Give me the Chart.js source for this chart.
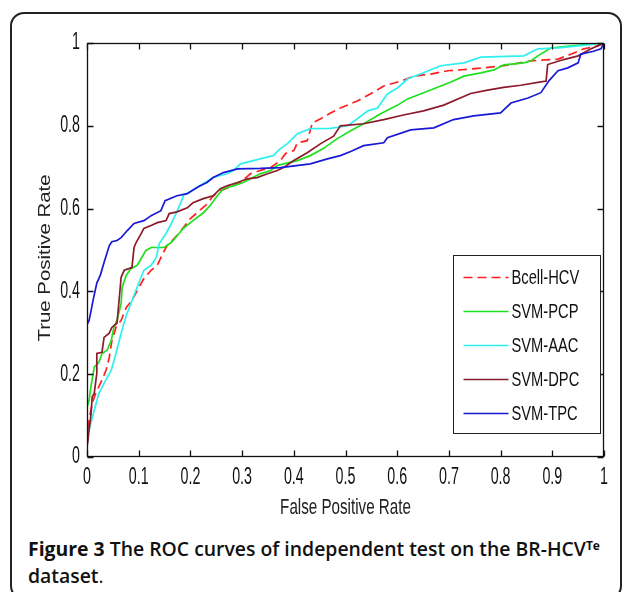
<!DOCTYPE html>
<html lang="en">
<head>
<meta charset="UTF-8">
<title>ROC curves BR-HCV</title>
<script src="https://cdn.jsdelivr.net/npm/chart.js"></script>
<style>
    body { margin: 0; background: #fff; width: 630px; height: 592px; overflow: hidden; position: relative; }
    .frame { position: absolute; left: 10px; top: 12px; width: 608px; height: 584px; border: 2px solid #222; border-radius: 14px; }
    #roc { position: absolute; left: 0; top: 0; }
    .caption { position: absolute; left: 28px; top: 535px; font-family: 'Open Sans', sans-serif; font-size: 19.4px; line-height: 27px; color: #111; font-weight: 600; white-space: nowrap; }
    .caption b { font-weight: 700; }
    .caption sup { font-size: 12px; font-weight: 700; vertical-align: top; position: relative; top: -3px; }
    .caption .dot { font-weight: 400; }
</style>
</head>
<body>
<div class="frame"></div>
<canvas id="roc" width="630" height="530"></canvas>
<div class="caption"><b>Figure 3</b> The ROC curves of independent test on the BR-HCV<sup>Te</sup><br>dataset<span class="dot">.</span></div>

<script>
    // tick labels
    const xTickLabels = ['0', '0.1', '0.2', '0.3', '0.4', '0.5', '0.6', '0.7', '0.8', '0.9', '1'];
    const yTickLabels = ['0', '0.2', '0.4', '0.6', '0.8', '1'];
    const xTitle = 'False Positive Rate';
    const yTitle = 'True Positive Rate';

    const seriesNames = ['Bcell-HCV', 'SVM-PCP', 'SVM-AAC', 'SVM-DPC', 'SVM-TPC'];
    const seriesColors = ['#ff1f1f', '#1fe01f', '#2ff0f0', '#8c1b2b', '#1a1ad6'];

    // (false positive rate / true positive rate)
    const bcellFpr = [0, 0, 0.004, 0.01, 0.017, 0.029, 0.037, 0.043, 0.048, 0.056, 0.066, 0.076, 0.087, 0.097, 0.11, 0.124, 0.136, 0.145, 0.155, 0.169, 0.182, 0.2, 0.213, 0.233, 0.244, 0.258, 0.283, 0.297, 0.316, 0.335, 0.355, 0.374, 0.384, 0.4, 0.407, 0.426, 0.436, 0.452, 0.471, 0.49, 0.523, 0.548, 0.574, 0.607, 0.632, 0.665, 0.698, 0.742, 0.806, 0.859, 0.911, 0.936, 0.961, 0.988, 1];
    const bcellTpr = [0, 0.017, 0.09, 0.13, 0.154, 0.186, 0.21, 0.24, 0.28, 0.313, 0.33, 0.361, 0.378, 0.402, 0.431, 0.451, 0.463, 0.487, 0.511, 0.528, 0.547, 0.576, 0.59, 0.612, 0.631, 0.643, 0.655, 0.663, 0.684, 0.692, 0.699, 0.716, 0.733, 0.74, 0.759, 0.764, 0.807, 0.817, 0.831, 0.843, 0.86, 0.877, 0.896, 0.908, 0.92, 0.925, 0.933, 0.937, 0.945, 0.957, 0.961, 0.973, 0.986, 0.993, 1];

    const pcpFpr = [0, 0, 0.004, 0.008, 0.014, 0.023, 0.029, 0.039, 0.047, 0.052, 0.058, 0.066, 0.068, 0.076, 0.085, 0.097, 0.105, 0.114, 0.124, 0.149, 0.163, 0.178, 0.186, 0.205, 0.225, 0.238, 0.252, 0.264, 0.283, 0.302, 0.316, 0.335, 0.355, 0.368, 0.38, 0.407, 0.432, 0.457, 0.484, 0.51, 0.535, 0.568, 0.601, 0.62, 0.645, 0.678, 0.703, 0.729, 0.762, 0.787, 0.806, 0.845, 0.859, 0.872, 0.897, 0.936, 1];
    const pcpTpr = [0, 0.12, 0.137, 0.173, 0.217, 0.229, 0.25, 0.258, 0.282, 0.313, 0.33, 0.371, 0.41, 0.439, 0.455, 0.463, 0.48, 0.499, 0.506, 0.506, 0.518, 0.54, 0.552, 0.571, 0.59, 0.607, 0.631, 0.648, 0.655, 0.663, 0.672, 0.684, 0.692, 0.704, 0.708, 0.716, 0.728, 0.745, 0.769, 0.788, 0.805, 0.829, 0.85, 0.865, 0.877, 0.893, 0.905, 0.92, 0.928, 0.935, 0.947, 0.952, 0.957, 0.969, 0.988, 0.993, 1];

    const aacFpr = [0, 0, 0.004, 0.014, 0.023, 0.033, 0.047, 0.056, 0.066, 0.076, 0.085, 0.097, 0.11, 0.124, 0.134, 0.14, 0.153, 0.163, 0.172, 0.18, 0.187, 0.213, 0.244, 0.271, 0.283, 0.297, 0.335, 0.36, 0.374, 0.388, 0.407, 0.432, 0.471, 0.504, 0.523, 0.543, 0.562, 0.581, 0.601, 0.62, 0.651, 0.684, 0.729, 0.762, 0.845, 0.872, 0.911, 0.95, 1];
    const aacTpr = [0, 0.058, 0.065, 0.113, 0.154, 0.178, 0.21, 0.25, 0.299, 0.342, 0.371, 0.41, 0.451, 0.463, 0.482, 0.516, 0.54, 0.564, 0.588, 0.61, 0.632, 0.651, 0.675, 0.684, 0.692, 0.708, 0.72, 0.728, 0.745, 0.757, 0.781, 0.793, 0.794, 0.8, 0.817, 0.836, 0.843, 0.877, 0.892, 0.913, 0.928, 0.945, 0.952, 0.966, 0.969, 0.986, 0.988, 0.993, 1];

    const dpcFpr = [0, 0, 0.004, 0.008, 0.01, 0.014, 0.019, 0.019, 0.029, 0.033, 0.043, 0.048, 0.058, 0.062, 0.066, 0.072, 0.081, 0.087, 0.091, 0.095, 0.105, 0.11, 0.124, 0.136, 0.153, 0.159, 0.174, 0.194, 0.205, 0.225, 0.244, 0.258, 0.271, 0.291, 0.31, 0.329, 0.349, 0.368, 0.38, 0.4, 0.426, 0.452, 0.477, 0.49, 0.535, 0.574, 0.612, 0.651, 0.69, 0.742, 0.775, 0.806, 0.839, 0.878, 0.888, 0.891, 0.922, 0.95, 0.975, 1];
    const dpcTpr = [0, 0.024, 0.065, 0.106, 0.145, 0.154, 0.202, 0.25, 0.253, 0.289, 0.299, 0.313, 0.323, 0.378, 0.434, 0.451, 0.455, 0.458, 0.506, 0.518, 0.54, 0.552, 0.559, 0.566, 0.571, 0.588, 0.592, 0.602, 0.614, 0.624, 0.631, 0.648, 0.655, 0.663, 0.672, 0.675, 0.684, 0.692, 0.699, 0.716, 0.735, 0.757, 0.775, 0.8, 0.805, 0.815, 0.826, 0.836, 0.85, 0.878, 0.886, 0.893, 0.898, 0.906, 0.908, 0.948, 0.96, 0.969, 0.986, 1];

    const tpcFpr = [0, 0, 0.004, 0.008, 0.012, 0.019, 0.026, 0.033, 0.043, 0.048, 0.058, 0.066, 0.078, 0.091, 0.11, 0.124, 0.143, 0.151, 0.174, 0.194, 0.209, 0.219, 0.232, 0.244, 0.264, 0.291, 0.335, 0.374, 0.432, 0.465, 0.49, 0.51, 0.535, 0.574, 0.581, 0.626, 0.671, 0.709, 0.748, 0.8, 0.82, 0.853, 0.878, 0.893, 0.911, 0.93, 0.95, 0.955, 0.98, 0.994, 1];
    const tpcTpr = [0, 0.32, 0.33, 0.354, 0.38, 0.42, 0.44, 0.47, 0.51, 0.52, 0.523, 0.53, 0.547, 0.564, 0.571, 0.583, 0.595, 0.619, 0.631, 0.636, 0.648, 0.655, 0.663, 0.675, 0.687, 0.696, 0.697, 0.699, 0.708, 0.72, 0.728, 0.738, 0.752, 0.759, 0.771, 0.79, 0.795, 0.815, 0.824, 0.831, 0.855, 0.867, 0.88, 0.908, 0.933, 0.94, 0.952, 0.973, 0.98, 0.986, 1];

    const fprs = [bcellFpr, pcpFpr, aacFpr, dpcFpr, tpcFpr];
    const tprs = [bcellTpr, pcpTpr, aacTpr, dpcTpr, tpcTpr];

    const labelFont = "'Liberation Sans', Arial, sans-serif";

    const datasets = seriesNames.map((name, i) => ({
        label: name,
        data: fprs[i].map((x, k) => ({ x: x, y: tprs[i][k] })),
        borderColor: seriesColors[i],
        backgroundColor: seriesColors[i],
        borderWidth: 1.7,
        borderDash: i === 0 ? [9, 5] : [],
        pointRadius: 0,
        tension: 0,
        fill: false,
        order: seriesNames.length - i
    }));

    // the source figure is stretched vertically, so its text looks tall and narrow
    function squeezedText(ctx, text, px, py, align, sx) {
        ctx.save();
        ctx.translate(px, py);
        ctx.scale(sx, 1);
        ctx.textAlign = align;
        ctx.fillText(text, 0, 0);
        ctx.restore();
    }

    // MATLAB style box with inward ticks on all four sides
    const axisFrame = {
        id: 'axisFrame',
        afterDatasetsDraw(chart) {
            const { ctx, chartArea: a, scales: { x, y } } = chart;
            const L = Math.round(a.left) + 0.5, R = Math.round(a.right) - 0.5;
            const T = Math.round(a.top) + 0.5, B = Math.round(a.bottom) - 0.5;
            ctx.save();
            ctx.strokeStyle = '#111';
            ctx.lineWidth = 1.3;
            ctx.strokeRect(L, T, R - L, B - T);
            ctx.beginPath();
            x.ticks.forEach(t => {
                const px = Math.round(x.getPixelForValue(t.value)) + 0.5;
                ctx.moveTo(px, B); ctx.lineTo(px, B - 6);
                ctx.moveTo(px, T); ctx.lineTo(px, T + 6);
            });
            y.ticks.forEach(t => {
                const py = Math.round(y.getPixelForValue(t.value)) + 0.5;
                ctx.moveTo(L, py); ctx.lineTo(L + 6, py);
                ctx.moveTo(R, py); ctx.lineTo(R - 6, py);
            });
            ctx.stroke();
            ctx.restore();
        }
    };

    const axisText = {
        id: 'axisText',
        afterDraw(chart) {
            const { ctx, chartArea: a, scales: { x, y } } = chart;
            ctx.save();
            ctx.fillStyle = '#111';
            ctx.textBaseline = 'middle';
            ctx.font = '23px ' + labelFont;
            x.ticks.forEach((t, i) => squeezedText(ctx, xTickLabels[i], x.getPixelForValue(t.value), a.bottom + 21, 'center', 0.62));
            y.ticks.forEach((t, i) => squeezedText(ctx, yTickLabels[i], a.left - 7, y.getPixelForValue(t.value), 'right', 0.62));
            ctx.fillStyle = '#222';
            ctx.font = '22px ' + labelFont;
            squeezedText(ctx, xTitle, (a.left + a.right) / 2, 508, 'center', 0.69);
            // y title: rotated, so the stretch runs along the text
            ctx.font = '17px ' + labelFont;
            ctx.save();
            ctx.translate(45, 258);
            ctx.rotate(-Math.PI / 2);
            ctx.scale(1.2, 1);
            ctx.textAlign = 'center';
            ctx.fillText(yTitle, 0, 0);
            ctx.restore();
            ctx.restore();
        }
    };

    const boxLegend = {
        id: 'boxLegend',
        afterDraw(chart) {
            const { ctx, chartArea: a } = chart;
            const w = 147, h = 178;
            const left = Math.round(a.right) - 4 - w + 0.5;
            const top = Math.round(a.bottom) - 24 - h + 0.5;
            ctx.save();
            ctx.fillStyle = '#fff';
            ctx.fillRect(left, top, w, h);
            ctx.strokeStyle = '#222';
            ctx.lineWidth = 1;
            ctx.strokeRect(left, top, w, h);
            ctx.font = '21px ' + labelFont;
            ctx.textBaseline = 'middle';
            chart.data.datasets.forEach((ds, i) => {
                const yy = top + 22 + i * 34;
                ctx.strokeStyle = ds.borderColor;
                ctx.lineWidth = 1.7;
                ctx.setLineDash(ds.borderDash);
                ctx.beginPath();
                ctx.moveTo(left + 10, yy);
                ctx.lineTo(left + 55, yy);
                ctx.stroke();
                ctx.setLineDash([]);
                ctx.fillStyle = '#111';
                squeezedText(ctx, ds.label, left + 58, yy + 1, 'left', 0.7);
            });
            ctx.restore();
        }
    };

    new Chart(document.getElementById('roc'), {
        type: 'line',
        data: { datasets: datasets },
        options: {
            responsive: false,
            animation: false,
            layout: { padding: { left: 0, right: 26, top: 43, bottom: 0 } },
            plugins: {
                legend: { display: false },
                tooltip: { enabled: false }
            },
            scales: {
                x: {
                    type: 'linear',
                    min: 0,
                    max: 1,
                    afterFit: s => { s.height = 73; },
                    grid: { display: false, drawTicks: false },
                    border: { display: false },
                    ticks: { stepSize: 0.1, autoSkip: false, display: false }
                },
                y: {
                    type: 'linear',
                    min: 0,
                    max: 1,
                    afterFit: s => { s.width = 87; },
                    grid: { display: false, drawTicks: false },
                    border: { display: false },
                    ticks: { stepSize: 0.2, display: false }
                }
            }
        },
        plugins: [axisFrame, axisText, boxLegend]
    });
</script>
</body>
</html>
